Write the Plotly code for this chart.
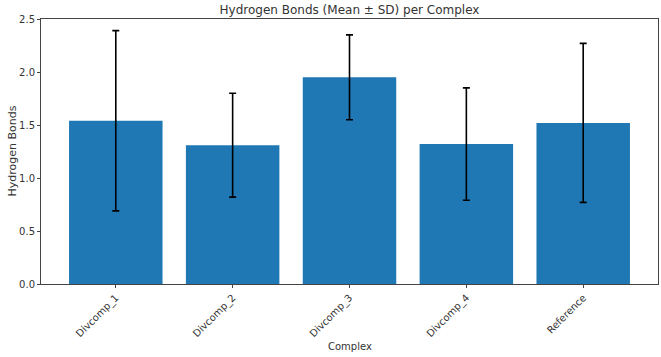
import plotly.graph_objects as go

complexes = ["Divcomp_1", "Divcomp_2", "Divcomp_3", "Divcomp_4", "Reference"]
mean_hbonds = [1.54, 1.31, 1.95, 1.32, 1.52]
sd_hbonds = [0.85, 0.49, 0.40, 0.53, 0.75]
y_ticks = [0.0, 0.5, 1.0, 1.5, 2.0, 2.5]

x_pos = list(range(len(complexes)))

fig = go.Figure(
    go.Bar(
        x=x_pos,
        y=mean_hbonds,
        width=0.8,
        marker=dict(color="#1f77b4", line=dict(width=0)),
        error_y=dict(type="data", array=sd_hbonds, visible=True,
                     color="black", thickness=1.6, width=3.5),
    )
)

axis_font = dict(family="DejaVu Sans", size=10, color="#333333")
fig.update_layout(
    width=661, height=357,
    margin=dict(l=41, r=3, t=19, b=73),
    paper_bgcolor="white", plot_bgcolor="white",
    font=dict(family="DejaVu Sans", color="#333333"),
    showlegend=False,
    title=dict(text="Hydrogen Bonds (Mean ± SD) per Complex",
               x=0.5, xref="paper", xanchor="center",
               y=1 - 10 / 357, yanchor="middle",
               font=dict(family="DejaVu Sans", size=12, color="#333333")),
    xaxis=dict(
        range=[-0.64, 4.64], tickmode="array", tickvals=x_pos, ticktext=complexes,
        tickangle=-45, ticks="outside", ticklen=3, tickwidth=1, tickcolor="#444444",
        showline=True, linecolor="#444444", linewidth=1, mirror=True,
        showgrid=False, zeroline=False, tickfont=axis_font, automargin=False,
    ),
    yaxis=dict(
        range=[0, 2.5], tickmode="array", tickvals=y_ticks,
        ticktext=[f"{v:.1f}" for v in y_ticks],
        ticks="outside", ticklen=3, tickwidth=1, tickcolor="#444444",
        showline=True, linecolor="#444444", linewidth=1, mirror=True,
        showgrid=False, zeroline=False, tickfont=axis_font, automargin=False,
    ),
    annotations=[
        dict(text="Complex", xref="paper", yref="paper", x=0.5, y=-(347 - 284.3) / 265,
             xanchor="center", yanchor="middle", showarrow=False,
             font=dict(family="DejaVu Sans", size=10, color="#333333")),
        dict(text="Hydrogen Bonds", xref="paper", yref="paper", x=-(41 - 12) / 617, y=0.5,
             xanchor="center", yanchor="middle", textangle=-90, showarrow=False,
             font=dict(family="DejaVu Sans", size=11, color="#333333")),
    ],
)

fig.write_html("out.html", config={"displayModeBar": False},
               post_script="document.body.style.margin='0';")
